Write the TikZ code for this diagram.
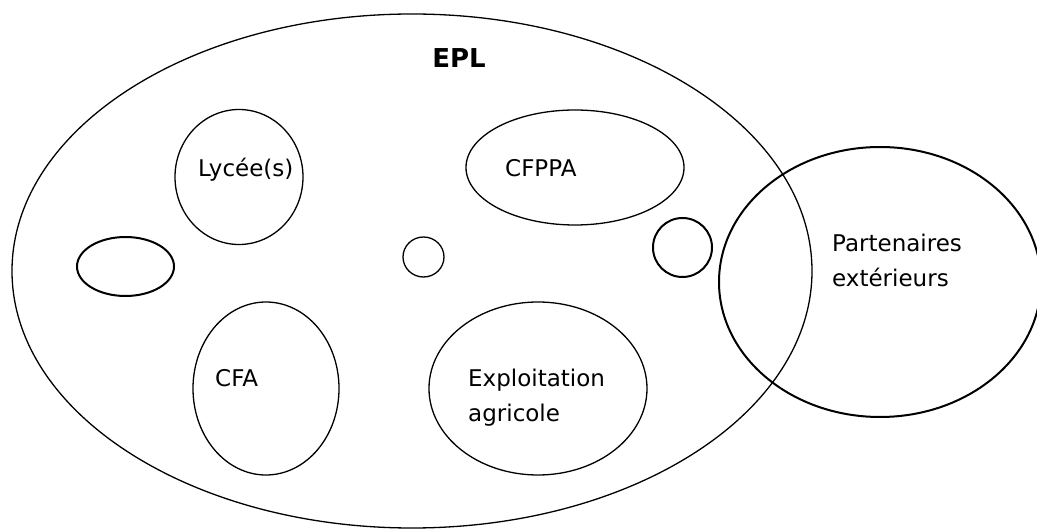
\documentclass[tikz,border=0pt]{standalone}
\usepackage{fontspec}
\setmainfont{DejaVu Sans}
\usetikzlibrary{shapes.geometric}
\tikzset{
  blob/.style={ellipse, draw, line width=1.3pt, inner sep=0pt},
  thickblob/.style={blob, line width=2pt},
  lbl/.style={anchor=base west, inner sep=0pt, align=left, font=\fontsize{23}{35}\selectfont},
}
\begin{document}
\begin{tikzpicture}[x=1pt,y=-1pt]
\useasboundingbox (0,0) rectangle (1037,529);
\clip (0,0) rectangle (1037,529);
\fill[white] (0,0) rectangle (1037,529);
\node[blob, minimum width=800pt, minimum height=514pt] (epl) at (412,271) {};
\node[blob, minimum width=128pt, minimum height=135pt] (lycee) at (239,177) {};
\node[blob, minimum width=218pt, minimum height=115pt] (cfppa) at (575,167.5) {};
\node[thickblob, minimum width=97pt, minimum height=59pt] (small) at (125.5,266.5) {};
\node[blob, minimum width=41pt, minimum height=40pt] (dot) at (423.5,257) {};
\node[thickblob, minimum width=59pt, minimum height=59pt] (circ) at (682.5,247.5) {};
\node[thickblob, minimum width=322pt, minimum height=270pt] (part) at (880,282) {};
\node[blob, minimum width=146pt, minimum height=173pt] (cfa) at (266,388.5) {};
\node[blob, minimum width=218pt, minimum height=173pt] (expl) at (538,388.5) {};
\node[anchor=base, inner sep=0pt, font=\fontsize{26}{30}\selectfont\bfseries] (epltxt) at (459,68) {EPL};
\node[lbl] (lyctxt) at (198,177) {Lycée(s)};
\node[lbl] (cfppatxt) at (505,177) {CFPPA};
\node[lbl] (parttxt) at (832,287) {Partenaires\\extérieurs};
\node[lbl] (cfatxt) at (215,387) {CFA};
\node[lbl] (expltxt) at (468,421) {Exploitation\\agricole};
\end{tikzpicture}
\end{document}
